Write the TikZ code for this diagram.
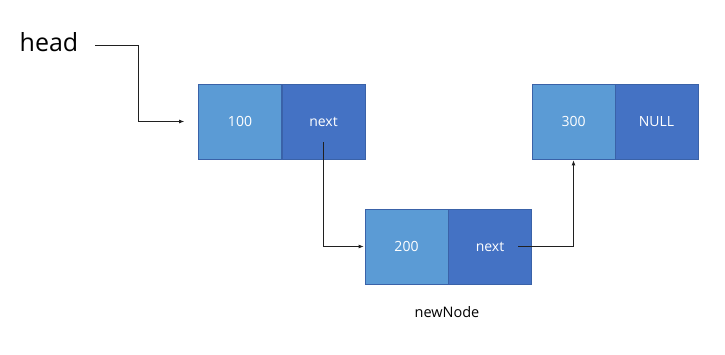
\documentclass[tikz,border=0pt]{standalone}
\usepackage{fontspec}
\setmainfont{Open Sans}
\usetikzlibrary{arrows.meta}
\definecolor{cellA}{HTML}{5B9BD5}
\definecolor{cellB}{HTML}{4472C4}
\definecolor{cellEdge}{HTML}{3A62A8}
\definecolor{wire}{HTML}{202020}
\begin{document}
\begin{tikzpicture}[x=1pt,y=-1pt,
  cell/.style={draw=cellEdge,line width=0.8pt,minimum width=83pt,minimum height=75pt,inner sep=0pt,text=white,font=\fontsize{14pt}{16pt}\selectfont},
  valcell/.style={cell,fill=cellA},
  ptrcell/.style={cell,fill=cellB},
  wirestyle/.style={draw=wire,line width=0.8pt,-{Latex[length=5pt,width=4pt]}}]
\useasboundingbox (0,0) rectangle (725,355);
\node[font=\fontsize{25pt}{28pt}\selectfont] (head) at (49,42) {head};
\node[valcell] (n1v) at (240,121.5) {100};
\node[ptrcell] (n1n) at (323.5,121.5) {next};
\node[valcell] (n2v) at (406.5,246.5) {200};
\node[ptrcell] (n2n) at (490,246.5) {next};
\node[valcell] (n3v) at (573.5,121.5) {300};
\node[ptrcell] (n3n) at (656.5,121.5) {NULL};
\node[font=\fontsize{14.5pt}{16pt}\selectfont] (lbl) at (447,312) {newNode};
\coordinate (hs) at (95,45);
\coordinate (hb) at (138,45);
\draw[wirestyle] (hs) -- (hb) |- ([xshift=-14pt]n1v.west);
\draw[wirestyle] ([yshift=-21pt]n1n.center) |- ([xshift=-1pt]n2v.west);
\draw[wirestyle] ([xshift=28pt]n2n.center) -| ([yshift=-1pt]n3v.south);
\end{tikzpicture}
\end{document}
